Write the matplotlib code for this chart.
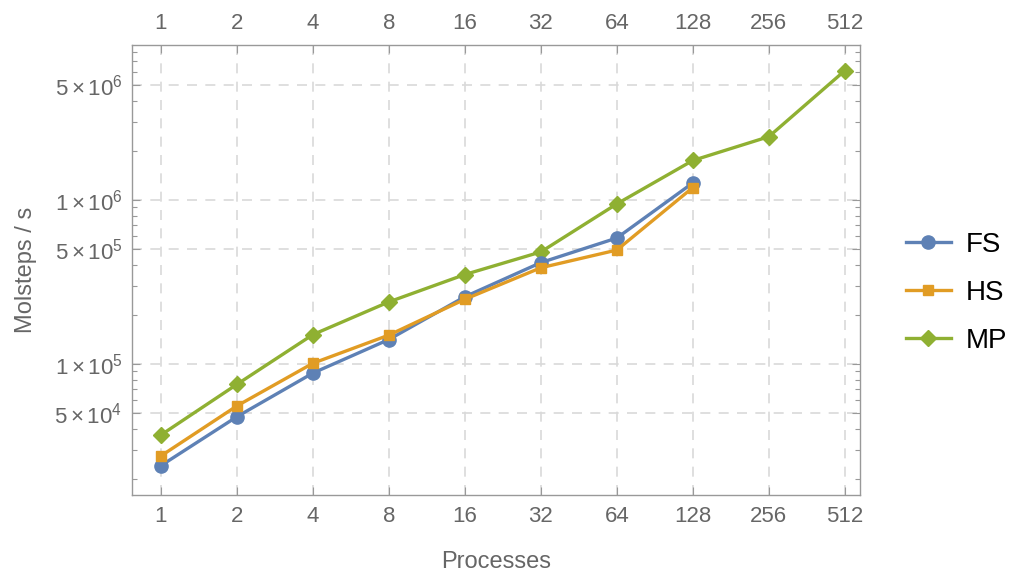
import matplotlib
matplotlib.use("Agg")
import matplotlib.pyplot as plt
from matplotlib.ticker import FixedLocator, LogLocator, NullFormatter, FixedFormatter

processes = [1, 2, 4, 8, 16, 32, 64, 128, 256, 512]
fs_procs = [1, 2, 4, 8, 16, 32, 64, 128]
fs_vals = [2.40e4, 4.77e4, 8.8e4, 1.41e5, 2.57e5, 4.15e5, 5.86e5, 1.27e6]
hs_procs = [1, 2, 4, 8, 16, 32, 64, 128]
hs_vals = [2.75e4, 5.55e4, 1.01e5, 1.50e5, 2.48e5, 3.86e5, 4.95e5, 1.19e6]
mp_procs = [1, 2, 4, 8, 16, 32, 64, 128, 256, 512]
mp_vals = [3.69e4, 7.51e4, 1.51e5, 2.39e5, 3.51e5, 4.82e5, 9.46e5, 1.74e6, 2.43e6, 6.14e6]
x_labels = ["1", "2", "4", "8", "16", "32", "64", "128", "256", "512"]
y_ticks = [5e4, 1e5, 5e5, 1e6, 5e6]
y_labels = [r"$5\times10^{4}$", r"$1\times10^{5}$", r"$5\times10^{5}$",
            r"$1\times10^{6}$", r"$5\times10^{6}$"]

plt.rcParams['font.family'] = ['Liberation Sans', 'DejaVu Sans']
plt.rcParams['mathtext.fontset'] = 'custom'
plt.rcParams['mathtext.rm'] = 'Liberation Sans'
plt.rcParams['mathtext.it'] = 'Liberation Sans'
plt.rcParams['mathtext.default'] = 'regular'

c_fs = "#5E81B5"
c_hs = "#E19C24"
c_mp = "#8FB032"
tick_col = "#666666"
frame_col = "#999999"

fig = plt.figure(figsize=(10.17, 5.74), dpi=100)
ax = fig.add_axes([132/1017, 1-495/574, (860-132)/1017, (495-45)/574])
ax.set_xscale('log', base=2)
ax.set_yscale('log')
ax.set_xlim(2**-0.38, 2**9.2)
ax.set_ylim(1.59e4, 8.8e6)

ax.plot(fs_procs, fs_vals, color=c_fs, lw=2.4, marker='o', ms=9.5, label='FS', zorder=3)
ax.plot(hs_procs, hs_vals, color=c_hs, lw=2.4, marker='s', ms=7, label='HS', zorder=4)
ax.plot(mp_procs, mp_vals, color=c_mp, lw=2.4, marker='D', ms=8.5, label='MP', zorder=2)

ax.xaxis.set_major_locator(FixedLocator(processes))
ax.xaxis.set_major_formatter(FixedFormatter(x_labels))
ax.xaxis.set_minor_locator(FixedLocator([]))
ax.yaxis.set_major_locator(FixedLocator(y_ticks))
ax.yaxis.set_major_formatter(FixedFormatter(y_labels))
ax.yaxis.set_minor_locator(LogLocator(base=10, subs=[1, 2, 3, 4, 6, 7, 8, 9]))
ax.yaxis.set_minor_formatter(NullFormatter())

ax.tick_params(axis='both', which='major', direction='in', length=6, width=0.8,
               color=frame_col, labelcolor=tick_col, labelsize=16,
               top=True, right=True, labeltop=True)
ax.tick_params(axis='y', which='minor', direction='in', length=3.5, width=0.8,
               color=frame_col, right=True)
ax.tick_params(axis='x', which='major', pad=8)
ax.tick_params(axis='y', which='major', pad=7)

for s in ax.spines.values():
    s.set_color(frame_col)
    s.set_linewidth(1.0)

ax.grid(True, which='major', color='#D9D9D9', linestyle=(0, (6, 5)), linewidth=1.2)

ax.set_xlabel("Processes", color=tick_col, fontsize=17)
ax.set_ylabel("Molsteps / s", color=tick_col, fontsize=17)
ax.xaxis.set_label_coords(0.5, -0.125)
ax.yaxis.set_label_coords(-0.131, 0.5)

leg = ax.legend(loc='center left', bbox_to_anchor=(1.029, 0.449), frameon=False,
                fontsize=20, handlelength=1.6, labelspacing=0.8, handletextpad=0.55)

fig.savefig("out.png", dpi=100)
